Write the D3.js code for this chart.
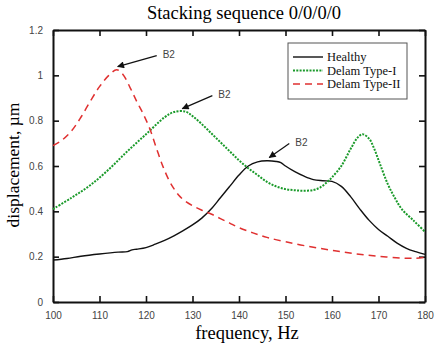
<!DOCTYPE html>
<html>
<head>
<meta charset="utf-8">
<script src="https://cdn.jsdelivr.net/npm/d3@7"></script>
<style>
  body { margin: 0; background: #fff; }
  svg { display: block; }
  .serif { font-family: "Liberation Serif", "Times New Roman", "DejaVu Serif", serif; }
  .sans { font-family: "Liberation Sans", Arial, sans-serif; }
</style>
</head>
<body>
<script>
// frequency response data (frequency in Hz, displacement in um)
var healthyFreq = [100, 103, 106, 110, 114, 116, 117, 118, 120, 122, 124, 126, 128, 130, 132, 134, 136, 138, 140, 142, 144, 146, 148, 149, 150, 152, 154, 156, 158, 160, 162, 164, 166, 168, 170, 172, 174, 176, 178, 180];
var healthyDisp = [0.185, 0.192, 0.202, 0.212, 0.22, 0.222, 0.23, 0.233, 0.24, 0.255, 0.272, 0.292, 0.315, 0.34, 0.37, 0.41, 0.46, 0.51, 0.56, 0.6, 0.618, 0.623, 0.62, 0.615, 0.6, 0.575, 0.555, 0.54, 0.535, 0.532, 0.51, 0.465, 0.41, 0.36, 0.32, 0.29, 0.26, 0.237, 0.222, 0.21];

var type1Freq = [100, 104, 108, 112, 116, 120, 124, 126, 128.5, 130, 132, 134, 136, 138, 140, 142, 144, 146, 148, 150, 152, 154, 156, 157.5, 159, 160, 162, 164, 165.5, 166.6, 168, 169, 170.3, 172, 173.5, 175, 177.5, 180];
var type1Disp = [0.41, 0.46, 0.515, 0.585, 0.665, 0.74, 0.815, 0.838, 0.84, 0.82, 0.785, 0.745, 0.705, 0.665, 0.625, 0.59, 0.56, 0.53, 0.51, 0.498, 0.493, 0.491, 0.494, 0.506, 0.53, 0.55, 0.6, 0.675, 0.725, 0.74, 0.72, 0.68, 0.61, 0.52, 0.46, 0.41, 0.36, 0.31];

var type2Freq = [100, 102, 104, 106, 108, 110, 112, 113.7, 115, 116.6, 118, 119.4, 120.9, 122.3, 123.7, 125, 126, 127, 128, 130, 132, 134, 136, 138, 140, 143, 146, 150, 155, 160, 165, 170, 175, 178, 180];
var type2Disp = [0.69, 0.715, 0.755, 0.815, 0.885, 0.95, 1.0, 1.025, 1.005, 0.945, 0.885, 0.83, 0.76, 0.675, 0.595, 0.535, 0.5, 0.472, 0.452, 0.425, 0.405, 0.388, 0.368, 0.348, 0.328, 0.305, 0.285, 0.266, 0.245, 0.228, 0.213, 0.202, 0.194, 0.193, 0.197];

var seriesNames = ["Healthy", "Delam Type-I", "Delam Type-II"];
var xTicks = [100, 110, 120, 130, 140, 150, 160, 170, 180];
var yTicks = [0, 0.2, 0.4, 0.6, 0.8, 1, 1.2];

// B2 peaks pointed at by arrows
var peakFreq = [113.7, 127.6, 146.3];
var peakDisp = [1.025, 0.84, 0.624];

var width = 436,
    height = 348;
var margin = {top: 30, right: 11, bottom: 46, left: 53};

var svg = d3.select("body")
    .append("svg")
    .attr("width", width)
    .attr("height", height);

var x = d3.scaleLinear()
    .domain([100, 180])
    .range([margin.left, width - margin.right]);

var y = d3.scaleLinear()
    .domain([0, 1.2])
    .range([height - margin.bottom, margin.top]);

var tickColor = "#444";

// axes with inward ticks on all four sides
svg.append("g")
    .attr("transform", "translate(0," + (height - margin.bottom) + ")")
    .call(d3.axisBottom(x).tickValues(xTicks).tickSizeInner(-6).tickSizeOuter(0).tickPadding(10))
    .call(styleAxis);

svg.append("g")
    .attr("transform", "translate(0," + margin.top + ")")
    .call(d3.axisTop(x).tickValues(xTicks).tickSizeInner(-6).tickSizeOuter(0).tickFormat(""))
    .call(styleAxis);

svg.append("g")
    .attr("transform", "translate(" + margin.left + ",0)")
    .call(d3.axisLeft(y).tickValues(yTicks).tickSizeInner(-6).tickSizeOuter(0).tickPadding(10)
        .tickFormat(function(d){ return d === 0 || d === 1 ? d3.format("d")(d) : d3.format(".1f")(d); }))
    .call(styleAxis);

svg.append("g")
    .attr("transform", "translate(" + (width - margin.right) + ",0)")
    .call(d3.axisRight(y).tickValues(yTicks).tickSizeInner(-6).tickSizeOuter(0).tickFormat(""))
    .call(styleAxis);

function styleAxis(g){
    g.select(".domain").attr("stroke", "#111").attr("stroke-width", 2);
    g.selectAll(".tick line").attr("stroke", "#111").attr("stroke-width", 1.6);
    g.selectAll(".tick text")
        .attr("class", "sans")
        .attr("fill", tickColor)
        .style("font-size", "10px");
}

// curves
var line = d3.line()
    .x(function(d){ return x(d[0]); })
    .y(function(d){ return y(d[1]); })
    .curve(d3.curveCatmullRom.alpha(0.5));

var series = [
    {freq: healthyFreq, disp: healthyDisp, color: "#111", dash: null, w: 1.4},
    {freq: type1Freq, disp: type1Disp, color: "#1a9a2a", dash: "2,1.3", w: 2},
    {freq: type2Freq, disp: type2Disp, color: "#e03030", dash: "7,5", w: 1.5}
];

svg.selectAll(".curve")
    .data(series)
    .enter()
    .append("path")
    .attr("class", "curve")
    .attr("fill", "none")
    .attr("stroke", function(d){ return d.color; })
    .attr("stroke-width", function(d){ return d.w; })
    .attr("stroke-dasharray", function(d){ return d.dash; })
    .attr("d", function(d){ return line(d3.zip(d.freq, d.disp)); });

// arrow annotations at the B2 peaks
svg.append("defs").append("marker")
    .attr("id", "head")
    .attr("viewBox", "0 0 10 10")
    .attr("refX", 9)
    .attr("refY", 5)
    .attr("markerWidth", 9)
    .attr("markerHeight", 7)
    .attr("markerUnits", "userSpaceOnUse")
    .attr("orient", "auto")
    .append("path")
    .attr("d", "M0,0L10,5L0,10z")
    .attr("fill", "#111");

var arrowOffset = [[39, -11], [30, -13], [20, -14]];

peakFreq.forEach(function(f, i){
    var px = x(f) + 1,
        py = y(peakDisp[i]) - 3;
    var tx = px + arrowOffset[i][0],
        ty = py + arrowOffset[i][1];
    svg.append("line")
        .attr("x1", tx)
        .attr("y1", ty)
        .attr("x2", px)
        .attr("y2", py)
        .attr("stroke", "#111")
        .attr("stroke-width", 1.2)
        .attr("marker-end", "url(#head)");
    svg.append("text")
        .attr("class", "sans")
        .attr("x", tx + 6)
        .attr("y", ty + 2)
        .attr("fill", tickColor)
        .style("font-size", "10px")
        .text("B2");
});

// legend
var legend = svg.append("g").attr("transform", "translate(288,43)");
legend.append("rect")
    .attr("width", 119)
    .attr("height", 56)
    .attr("fill", "#fff")
    .attr("stroke", "#555")
    .attr("stroke-width", 1);

series.forEach(function(s, i){
    var ly = 14 + i * 13.5;
    legend.append("line")
        .attr("x1", 5)
        .attr("x2", 35)
        .attr("y1", ly)
        .attr("y2", ly)
        .attr("stroke", s.color)
        .attr("stroke-width", s.w)
        .attr("stroke-dasharray", s.dash);
    legend.append("text")
        .attr("class", "serif")
        .attr("x", 39)
        .attr("y", ly + 4)
        .attr("fill", "#111")
        .style("font-size", "12.5px")
        .text(seriesNames[i]);
});

// titles
svg.append("text")
    .attr("class", "serif")
    .attr("x", 244)
    .attr("y", 19)
    .attr("text-anchor", "middle")
    .style("font-size", "18.5px")
    .text("Stacking sequence 0/0/0/0");

svg.append("text")
    .attr("class", "serif")
    .attr("x", 247)
    .attr("y", 339)
    .attr("text-anchor", "middle")
    .style("font-size", "18.5px")
    .text("frequency, Hz");

svg.append("text")
    .attr("class", "serif")
    .attr("transform", "translate(19,165) rotate(-90)")
    .attr("text-anchor", "middle")
    .style("font-size", "17.5px")
    .text("displacement, \u00b5m");
</script>
</body>
</html>
